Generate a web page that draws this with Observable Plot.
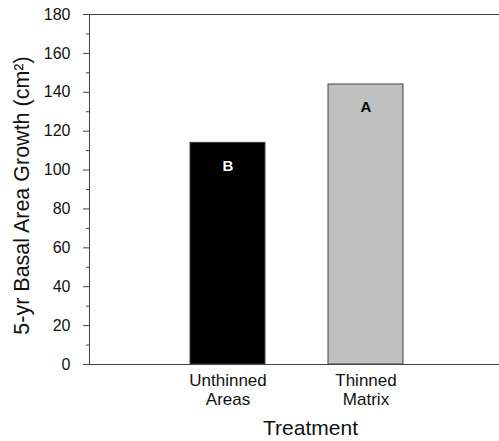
<!DOCTYPE html>
<html>
<head>
<meta charset="utf-8">
<script src="https://cdn.jsdelivr.net/npm/d3@7"></script>
<script src="https://cdn.jsdelivr.net/npm/@observablehq/plot@0.6"></script>
<style>
  html, body { margin: 0; padding: 0; background: #fff; }
  svg { display: block; }
</style>
</head>
<body>
<div id="chart"></div>
<script>
const categories = ["Unthinned Areas", "Thinned Matrix"];
const tickLabels = ["Unthinned\nAreas", "Thinned\nMatrix"];
const growth = [114, 144];
const letters = ["B", "A"];
const barFills = ["#000000", "#c0c0c0"];
const letterFills = ["#ffffff", "#000000"];
const yMajorTicks = [0, 20, 40, 60, 80, 100, 120, 140, 160, 180];
const yMinorTicks = [10, 30, 50, 70, 90, 110, 130, 150, 170];

const data = categories.map((c, i) => ({
  cat: c, value: growth[i], letter: letters[i], fill: barFills[i], lfill: letterFills[i], label: tickLabels[i]
}));

const font = "Liberation Sans, Arial, Helvetica, sans-serif";

const chart = Plot.plot({
  width: 499,
  height: 441,
  marginLeft: 89,
  marginRight: 0,
  marginTop: 14,
  marginBottom: 77,
  style: { fontFamily: font, color: "#111", background: "#fff" },
  x: { domain: categories, range: [89, 503], paddingInner: 0.457, paddingOuter: 0.7285, axis: null },
  y: { domain: [0, 180] },
  marks: [
    Plot.barY(data, { x: "cat", y: "value", fill: "fill", stroke: "#444", strokeWidth: 1 }),
    Plot.text(data, { x: "cat", y: "value", text: "letter", fill: "lfill", fontWeight: "bold", fontSize: 15, dy: 23, fontFamily: font }),
    Plot.frame({ anchor: "left", stroke: "#444" }),
    Plot.frame({ anchor: "top", stroke: "#444" }),
    Plot.frame({ anchor: "bottom", stroke: "#444" }),
    Plot.axisY({ ticks: yMajorTicks, tickSize: 6, tickPadding: 13, fontSize: 16, label: null, stroke: "#444" }),
    Plot.axisY({ ticks: yMinorTicks, tickSize: 3, text: null, label: null, stroke: "#444" }),
    Plot.text(data, { x: "cat", text: "label", frameAnchor: "bottom", lineAnchor: "top", dy: 8, fontSize: 17, lineHeight: 1.13, fontFamily: font, fill: "#111" }),
    Plot.text(["5-yr Basal Area Growth (cm²)"], { frameAnchor: "left", textAnchor: "middle", lineAnchor: "middle", rotate: -90, dx: -67, dy: 6, fontSize: 21.5, fontFamily: font, fill: "#111" }),
    Plot.text(["Treatment"], { frameAnchor: "bottom", textAnchor: "middle", lineAnchor: "middle", dx: 16, dy: 64, fontSize: 21, fontFamily: font, fill: "#111" })
  ]
});

document.getElementById("chart").appendChild(chart);
</script>
</body>
</html>
